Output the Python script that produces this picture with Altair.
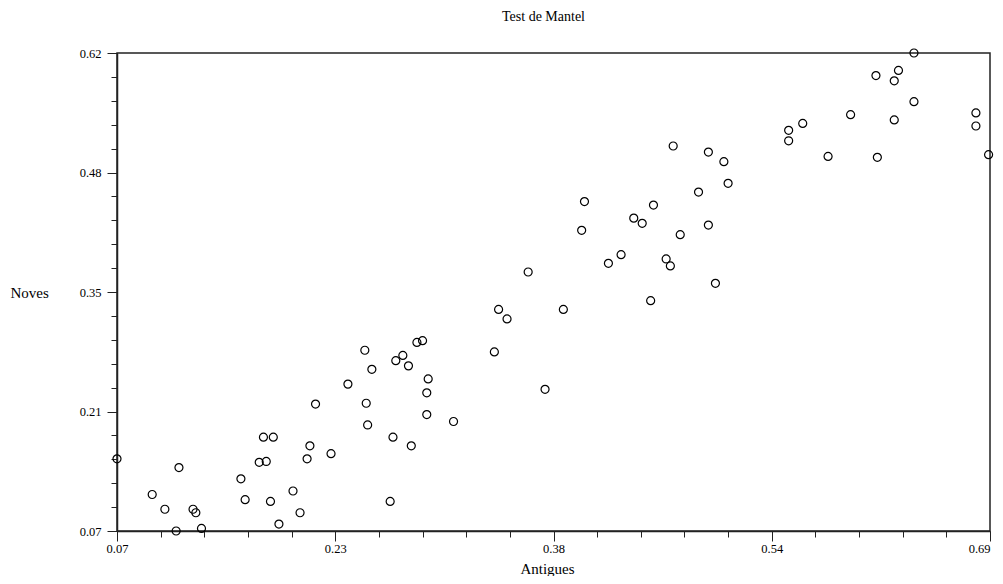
import altair as alt
import pandas as pd

antigues = [0.070, 0.095, 0.104, 0.112, 0.114, 0.124, 0.126, 0.130, 0.158, 0.161,
            0.171, 0.176, 0.174, 0.181, 0.179, 0.185, 0.195, 0.200, 0.205, 0.207,
            0.211, 0.222, 0.234, 0.246, 0.251, 0.247, 0.248, 0.264, 0.266, 0.268,
            0.273, 0.277, 0.283, 0.287, 0.291, 0.290, 0.290, 0.279, 0.309, 0.341,
            0.347, 0.338, 0.362, 0.374, 0.387, 0.402, 0.400, 0.419, 0.428, 0.437,
            0.443, 0.451, 0.449, 0.460, 0.463, 0.465, 0.470, 0.483, 0.490, 0.490,
            0.495, 0.501, 0.504, 0.547, 0.547, 0.557, 0.575, 0.591, 0.610, 0.609,
            0.622, 0.625, 0.622, 0.636, 0.636, 0.680, 0.680, 0.689]
noves = [0.153, 0.112, 0.095, 0.070, 0.143, 0.095, 0.091, 0.073, 0.130, 0.106,
         0.149, 0.150, 0.178, 0.178, 0.104, 0.078, 0.116, 0.091, 0.153, 0.168,
         0.216, 0.159, 0.239, 0.278, 0.256, 0.217, 0.192, 0.104, 0.178, 0.266,
         0.272, 0.260, 0.287, 0.289, 0.245, 0.229, 0.204, 0.168, 0.196, 0.325,
         0.314, 0.276, 0.368, 0.233, 0.325, 0.449, 0.416, 0.378, 0.388, 0.430,
         0.424, 0.445, 0.335, 0.383, 0.375, 0.513, 0.411, 0.460, 0.506, 0.422,
         0.355, 0.495, 0.470, 0.531, 0.519, 0.539, 0.501, 0.549, 0.500, 0.594,
         0.588, 0.600, 0.543, 0.620, 0.564, 0.551, 0.536, 0.503]

x_major = [0.07, 0.225, 0.38, 0.535, 0.69]
x_labels = ["0.07", "0.23", "0.38", "0.54", "0.69"]
y_major = [0.07, 0.2075, 0.345, 0.4825, 0.62]
y_labels = ["0.07", "0.21", "0.35", "0.48", "0.62"]


def minor_ticks(major, k=5):
    out = []
    for a, b in zip(major[:-1], major[1:]):
        for i in range(k):
            out.append(a + (b - a) * i / k)
    out.append(major[-1])
    return out


x_minor = minor_ticks(x_major)
y_minor = minor_ticks(y_major)

df = pd.DataFrame({"antigues": antigues, "noves": noves})

FONT = "Liberation Serif"
INK = "#222222"

xs = alt.Scale(domain=[x_major[0], x_major[-1]], nice=False, zero=False)
ys = alt.Scale(domain=[y_major[0], y_major[-1]], nice=False, zero=False)


def label_expr(labels):
    arr = "[" + ",".join("'" + s + "'" for s in labels) + "]"
    return f"{arr}[round(datum.index*{len(labels) - 1})]"


x_axis_major = alt.Axis(
    orient="bottom", values=x_major, tickSize=10, tickColor=INK, tickWidth=1,
    domainColor=INK, domainWidth=1.5, grid=False,
    labelExpr=label_expr(x_labels), labelFont=FONT, labelFontSize=12.5,
    labelColor="black", labelPadding=1, labelOverlap=False, labelBound=False,
    labelFlush=False,
    labelAlign={"condition": {"test": "datum.index >= 1", "value": "right"},
                "value": "center"},
    title="Antigues", titleFont=FONT, titleFontSize=15, titleFontWeight="normal",
    titleColor="black", titleX=430, titleY=37, titleBaseline="middle",
    titleAlign="center",
)
x_axis_minor = alt.Axis(
    orient="bottom", values=x_minor, tickSize=6, tickColor=INK, tickWidth=1,
    domain=False, grid=False, labels=False, title=None,
)
y_axis_major = alt.Axis(
    orient="left", values=y_major, tickSize=10, tickColor=INK, tickWidth=1,
    domainColor=INK, domainWidth=1.5, grid=False,
    labelExpr=label_expr(y_labels), labelFont=FONT, labelFontSize=12.5,
    labelColor="black", labelPadding=6, labelOverlap=False, labelBound=False,
    labelFlush=False,
    title="Noves", titleFont=FONT, titleFontSize=15, titleFontWeight="normal",
    titleColor="black", titleAngle=0, titleX=-107, titleY=239,
    titleBaseline="middle", titleAlign="left",
)
y_axis_minor = alt.Axis(
    orient="left", values=y_minor, tickSize=6, tickColor=INK, tickWidth=1,
    domain=False, grid=False, labels=False, title=None,
)

minor_layer = alt.Chart(df).mark_point(opacity=0).encode(
    x=alt.X("antigues:Q", scale=xs, axis=x_axis_minor),
    y=alt.Y("noves:Q", scale=ys, axis=y_axis_minor),
)

points = alt.Chart(df).mark_point(
    filled=False, size=64, strokeWidth=1.2, color="black", opacity=1
).encode(
    x=alt.X("antigues:Q", scale=xs, axis=x_axis_major),
    y=alt.Y("noves:Q", scale=ys, axis=y_axis_major),
)

chart = (
    alt.layer(minor_layer, points)
    .resolve_scale(x="independent", y="independent")
    .properties(
        width=873,
        height=478,
        background="white",
        autosize=alt.AutoSizeParams(type="none"),
        padding={"left": 109, "top": 45, "right": 5, "bottom": 45},
        title=alt.TitleParams(
            "Test de Mantel", font=FONT, fontSize=14, fontWeight="normal",
            color="black", anchor="middle", dx=-10, offset=23,
        ),
    )
    .configure_view(stroke=INK, strokeWidth=1.5)
)

chart.save("out.html", embed_options={"renderer": "svg", "actions": False})
